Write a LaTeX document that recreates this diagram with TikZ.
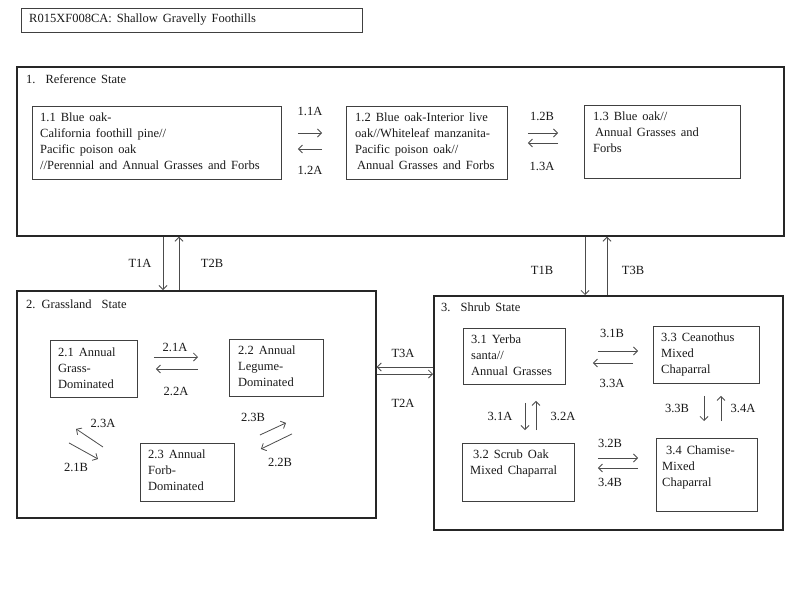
\documentclass[tikz,border=0pt]{standalone}
\usepackage{fontspec}
\setmainfont{Liberation Serif}
\usetikzlibrary{arrows.meta,calc}
\newcommand\mytxtfont{\fontsize{12.5}{16}\selectfont\spaceskip=5pt plus 1pt minus 0.5pt\relax}
\begin{document}
\begin{tikzpicture}[x=1pt,y=-1pt,
  sbox/.style={draw=black!75, line width=0.9pt, anchor=north west, inner sep=0},
  statebox/.style={sbox, draw=black!85, line width=1.7pt},
  txt/.style={anchor=north west, inner sep=0, align=left, font=\mytxtfont, text=black!90},
  lab/.style={inner sep=0, font=\mytxtfont, text=black!90},
  arr/.style={draw=black!70, line width=0.8pt, -{Straight Barb[length=4pt,width=8pt]}}]
\useasboundingbox (0,0) rectangle (800,600);
\fill[white] (0,0) rectangle (800,600);

% title
\node[sbox, line width=0.8pt, minimum width=341, minimum height=24] (title) at (21,8) {};
\node[txt, anchor=west] (titlet) at (29,20) {R015XF008CA: Shallow Gravelly Foothills};

% states
\node[statebox, minimum width=767, minimum height=169] (ref) at (16,66) {};
\node[txt, anchor=west] (reft) at (26,79) {1.\ \ Reference State};
\node[statebox, minimum width=359, minimum height=227] (grass) at (16,290) {};
\node[txt, anchor=west] (grasst) at (26,304) {2. Grassland \ State};
\node[statebox, minimum width=349, minimum height=234] (shrub) at (433,295) {};
\node[txt, anchor=west] (shrubt) at (441,307) {3.\ \ Shrub State};

% reference communities
\node[sbox, minimum width=249, minimum height=73] (b11) at (32,106) {};
\node[txt] (b11t) at (40,113) {1.1 Blue oak-\\California foothill pine//\\Pacific poison oak\\//Perennial and Annual Grasses and Forbs};
\node[sbox, minimum width=161, minimum height=73] (b12) at (346,106) {};
\node[txt] (b12t) at (355,113) {1.2 Blue oak-Interior live\\oak//Whiteleaf manzanita-\\Pacific poison oak//\\\hspace*{2pt}Annual Grasses and Forbs};
\node[sbox, minimum width=156, minimum height=73] (b13) at (584,105) {};
\node[txt] (b13t) at (593,112) {1.3 Blue oak//\\\hspace*{2pt}Annual Grasses and\\Forbs};

\draw[arr] ($(b11.north east)+(16,27)$) -- ($(b12.north west)+(-24,27)$);
\draw[arr] ($(b12.north west)+(-24,43)$) -- ($(b11.north east)+(16,43)$);
\node[lab] (l11a) at (310,111) {1.1A};
\node[lab] (l12a) at (310,170) {1.2A};
\draw[arr] ($(b12.north east)+(20,27)$) -- ($(b13.north west)+(-26,28)$);
\draw[arr] ($(b13.north west)+(-26,38)$) -- ($(b12.north east)+(20,37)$);
\node[lab] (l12b) at (542,116) {1.2B};
\node[lab] (l13a) at (542,166) {1.3A};

% grassland communities
\node[sbox, minimum width=87, minimum height=57] (b21) at (50,340) {};
\node[txt] (b21t) at (58,348) {2.1 Annual\\Grass-\\Dominated};
\node[sbox, minimum width=94, minimum height=57] (b22) at (229,339) {};
\node[txt] (b22t) at (238,346) {2.2 Annual\\Legume-\\Dominated};
\node[sbox, minimum width=94, minimum height=58] (b23) at (140,443) {};
\node[txt] (b23t) at (148,450) {2.3 Annual\\Forb-\\Dominated};

\draw[arr] ($(b21.north east)+(16,17)$) -- ($(b22.north west)+(-31,18)$);
\draw[arr] ($(b22.north west)+(-31,30)$) -- ($(b21.north east)+(18,29)$);
\node[lab] (l21a) at (175,347) {2.1A};
\node[lab] (l22a) at (176,391) {2.2A};
\draw[arr] ($(b23.north west)+(-37,4)$) -- ($(b21.south west)+(26,31)$);
\draw[arr] ($(b21.south west)+(19,45)$) -- ($(b23.north west)+(-42,16)$);
\node[lab] (l23a) at (103,423) {2.3A};
\node[lab] (l21b) at (76,467) {2.1B};
\draw[arr] ($(b23.north east)+(25,-8)$) -- ($(b22.south west)+(57,26)$);
\draw[arr] ($(b22.south west)+(63,37)$) -- ($(b23.north east)+(26,6)$);
\node[lab] (l23b) at (253,417) {2.3B};
\node[lab] (l22b) at (280,462) {2.2B};

% shrub communities
\node[sbox, minimum width=102, minimum height=56] (b31) at (463,328) {};
\node[txt] (b31t) at (471,335) {3.1 Yerba\\santa//\\Annual Grasses};
\node[sbox, minimum width=106, minimum height=57] (b33) at (653,326) {};
\node[txt] (b33t) at (661,333) {3.3 Ceanothus\\Mixed\\Chaparral};
\node[sbox, minimum width=112, minimum height=58] (b32) at (462,443) {};
\node[txt] (b32t) at (470,450) {\hspace*{3pt}3.2 Scrub Oak\\Mixed Chaparral};
\node[sbox, minimum width=101, minimum height=73] (b34) at (656,438) {};
\node[txt] (b34t) at (662,446) {\hspace*{4pt}3.4 Chamise-\\Mixed\\Chaparral};

\draw[arr] ($(b31.north east)+(32,23)$) -- ($(b33.north west)+(-15,25)$);
\draw[arr] ($(b33.north west)+(-20,37)$) -- ($(b31.north east)+(27,35)$);
\node[lab] (l31b) at (612,333) {3.1B};
\node[lab] (l33a) at (612,383) {3.3A};
\draw[arr] ($(b31.south west)+(62,18)$) -- ($(b32.north west)+(63,-13)$);
\draw[arr] ($(b32.north west)+(74,-13)$) -- ($(b31.south west)+(73,16)$);
\node[lab] (l31a) at (500,416) {3.1A};
\node[lab] (l32a) at (563,416) {3.2A};
\draw[arr] ($(b33.south west)+(51,12)$) -- ($(b34.north west)+(48,-17)$);
\draw[arr] ($(b34.north west)+(65,-17)$) -- ($(b33.south west)+(68,12)$);
\node[lab] (l33b) at (677,408) {3.3B};
\node[lab] (l34a) at (743,408) {3.4A};
\draw[arr] ($(b32.north east)+(23,15)$) -- ($(b34.north west)+(-18,20)$);
\draw[arr] ($(b34.north west)+(-18,30)$) -- ($(b32.north east)+(23,25)$);
\node[lab] (l32b) at (610,443) {3.2B};
\node[lab] (l34b) at (610,482) {3.4B};

% transitions between states
\draw[arr] (ref.south -| 163,0) -- (grass.north -| 163,0);
\draw[arr] (grass.north -| 179,0) -- (ref.south -| 179,0);
\node[lab] (t1a) at (140,263) {T1A};
\node[lab] (t2b) at (212,263) {T2B};
\draw[arr] (ref.south -| 585,0) -- (shrub.north -| 585,0);
\draw[arr] (shrub.north -| 607,0) -- (ref.south -| 607,0);
\node[lab] (t1b) at (542,270) {T1B};
\node[lab] (t3b) at (633,270) {T3B};
\draw[arr] (shrub.west |- 0,367) -- (grass.east |- 0,367);
\draw[arr] (grass.east |- 0,374) -- (shrub.west |- 0,374);
\node[lab] (t3a) at (403,353) {T3A};
\node[lab] (t2a) at (403,403) {T2A};
\end{tikzpicture}
\end{document}
